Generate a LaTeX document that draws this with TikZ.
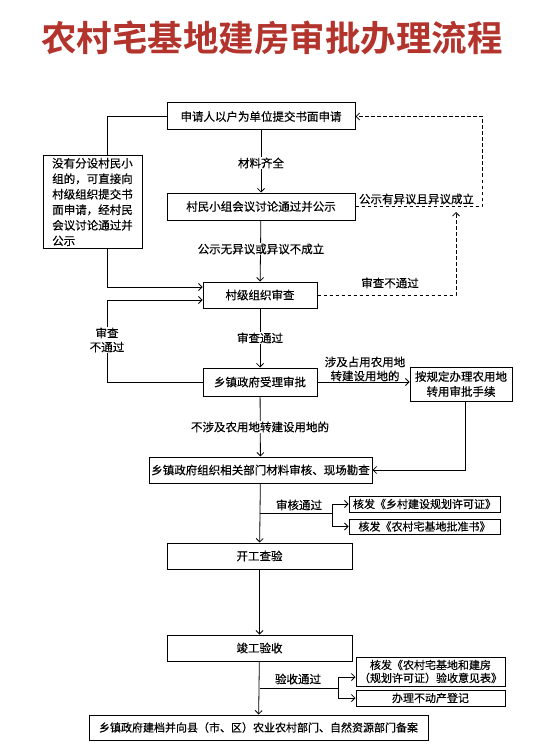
\documentclass[tikz,border=0pt]{standalone}
\usepackage{fontspec}
\setmainfont{Noto Sans CJK SC}[FakeBold=0.35]
\newfontfamily\titlefont{Noto Sans CJK SC}[BoldFont={* Bold}]
\usetikzlibrary{arrows.meta}
\definecolor{titlered}{HTML}{B3342C}
\tikzset{
  box/.style={draw=black, line width=1pt, fill=white, inner sep=2pt, font=\fontsize{11.5}{14}\selectfont},
  conn/.style={line width=0.8pt, -{Straight Barb[length=3.5pt,width=7pt]}},
  plain/.style={line width=0.8pt},
  dashline/.style={line width=0.8pt, dash pattern=on 3.5pt off 2.5pt, -{Straight Barb[length=3.5pt,width=7pt]}},
  lbl/.style={font=\fontsize{11.5}{14}\selectfont, inner sep=1pt},
  wlbl/.style={lbl, fill=white}
}
\begin{document}
\begin{tikzpicture}[x=1pt,y=-1pt]
\useasboundingbox[fill=white] (0,0) rectangle (557,754);
% title
\node[font=\titlefont\fontsize{35.5}{38}\bfseries\selectfont, text=titlered] (title) at (272,38) {农村宅基地建房审批办理流程};
% boxes
\node[box, minimum width=188pt, minimum height=27pt] (b1) at (261,116.5) {申请人以户为单位提交书面申请};
\node[box, minimum width=188pt, minimum height=27pt] (b2) at (261,206.5) {村民小组会议讨论通过并公示};
\node[box, minimum width=99pt, minimum height=90pt, align=left, font=\fontsize{11.5}{15.5}\selectfont] (L) at (92.5,202) {没有分设村民小\\组的，可直接向\\村级组织提交书\\面申请，经村民\\会议讨论通过并\\公示};
\node[box, minimum width=114pt, minimum height=26pt] (b3) at (260,295) {村级组织审查};
\node[box, minimum width=114pt, minimum height=28pt] (b4) at (260,382) {乡镇政府受理审批};
\node[box, minimum width=102pt, minimum height=34pt, align=center, font=\fontsize{11.5}{15}\selectfont] (b5) at (461,384) {按规定办理农用地\\转用审批手续};
\node[box, minimum width=223pt, minimum height=26pt] (b6) at (260.5,470) {乡镇政府组织相关部门材料审核、现场勘查};
\node[box, minimum width=151pt, minimum height=16pt, font=\fontsize{11}{13}\selectfont] (b7) at (424.5,504) {核发《乡村建设规划许可证》};
\node[box, minimum width=151pt, minimum height=15pt, font=\fontsize{11}{13}\selectfont] (b8) at (424.5,526.5) {核发《农村宅基地批准书》};
\node[box, minimum width=185pt, minimum height=26pt] (b9) at (259.5,556) {开工查验};
\node[box, minimum width=185pt, minimum height=26pt] (b10) at (259.5,648) {竣工验收};
\node[box, minimum width=149pt, minimum height=29pt, align=center, inner sep=1pt, font=\fontsize{11}{13}\selectfont] (b11) at (430.5,671.5) {核发《农村宅基地和建房\\（规划许可证）验收意见表》};
\node[box, minimum width=149pt, minimum height=16pt, font=\fontsize{11}{13}\selectfont] (b12) at (430.5,698) {办理不动产登记};
\node[box, minimum width=339pt, minimum height=25pt, font=\fontsize{11}{13}\selectfont] (b13) at (258.5,727.5) {乡镇政府建档并向县（市、区）农业农村部门、自然资源部门备案};
% coordinates
\coordinate (lt) at (107,116.5);
\coordinate (lb) at (107,287);
\coordinate (lr) at (107,382);
\coordinate (lu) at (107,300);
\coordinate (d1) at (482,206.5);
\coordinate (d2) at (482,116.5);
\coordinate (d3) at (456,295);
\coordinate (d4) at (456,212);
\coordinate (r1) at (465,470);
\coordinate (s1) at (260,513);
\coordinate (s2) at (332,513);
\coordinate (s3) at (332,504);
\coordinate (s4) at (332,526.5);
\coordinate (t1) at (259.5,688);
\coordinate (t2) at (338,688);
\coordinate (t3) at (338,677);
\coordinate (t4) at (338,698);
% main flow
\draw[conn] (b1) -- (b2);
\draw[conn] (b2) -- (b3);
\draw[conn] (b3) -- (b4);
\draw[conn] (b4) -- (b6);
\draw[conn] (b6) -- (b9);
\draw[conn] (b9) -- (b10);
\draw[conn] (b10) -- (b13);
% left branch
\draw[plain] (b1.west) -- (lt) -- (L.north -| lt);
\draw[conn] (L.south -| lt) -- (lb) -- (b3.west |- lb);
\draw[conn] (b4.west) -- (lr) -- (lu) -- (b3.west |- lu);
% dashed returns
\draw[dashline] (b2.east) -- (d1) -- (d2) -- (b1.east);
\draw[dashline] (b3.east) -- (d3) -- (d4);
% right branch
\draw[conn] (b4.east) -- (b4.east -| b5.west);
\draw[conn] (b5.south -| r1) -- (r1) -- (b6.east |- r1);
% issuing branches
\draw[plain] (s1) -- (s2);
\draw[plain] (s3) -- (s4);
\draw[conn] (s3) -- (b7.west |- s3);
\draw[conn] (s4) -- (b8.west |- s4);
\draw[plain] (t1) -- (t2);
\draw[plain] (t3) -- (t4);
\draw[conn] (t3) -- (b11.west |- t3);
\draw[conn] (t4) -- (b12.west |- t4);
% labels
\node[wlbl] (l1) at (261,163) {材料齐全};
\node[wlbl] (l2) at (261,249) {公示无异议或异议不成立};
\node[wlbl] (l3) at (260,338) {审查通过};
\node[wlbl] (l4) at (260,427) {不涉及农用地转建设用地的};
\node[wlbl, align=center, font=\fontsize{11.5}{14}\selectfont] (l5) at (107,340) {审查\\不通过};
\node[lbl] (l6) at (416.5,199) {公示有异议且异议成立};
\node[lbl] (l7) at (390,283) {审查不通过};
\node[lbl, align=center, font=\fontsize{11.5}{14}\selectfont] (l8) at (365,369) {涉及占用农用地\\转建设用地的};
\node[lbl] (l9) at (299,505) {审核通过};
\node[lbl] (l10) at (298,679) {验收通过};
\end{tikzpicture}
\end{document}
